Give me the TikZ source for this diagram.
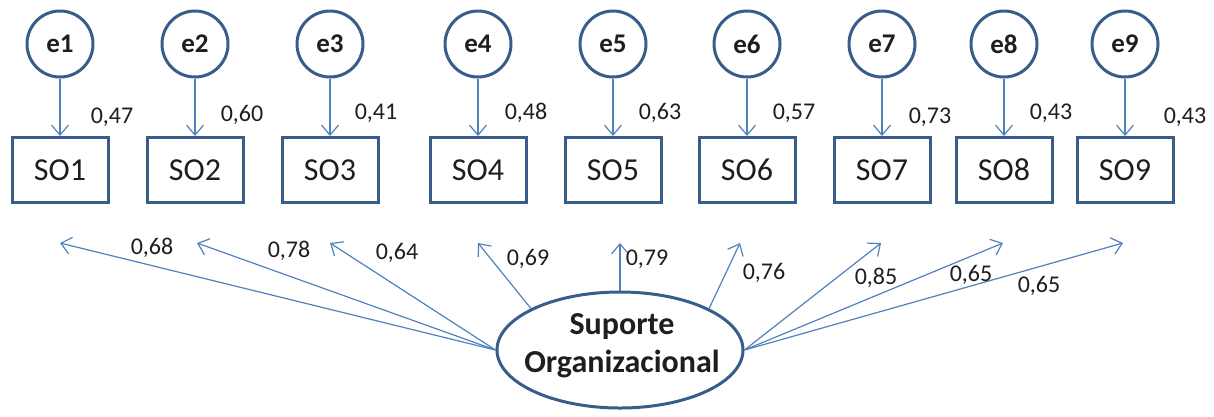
\documentclass[tikz,border=0pt]{standalone}
\usepackage{fontspec}
\setmainfont{Carlito}
\usetikzlibrary{arrows.meta,shapes.geometric}
\definecolor{framecol}{RGB}{56,93,138}
\definecolor{pathcol}{RGB}{79,129,189}
\definecolor{txtcol}{RGB}{30,30,30}
\tikzset{
  errnode/.style={circle, draw=framecol, line width=3pt, minimum size=66pt, inner sep=0pt,
    font=\fontsize{27}{30}\selectfont\bfseries, text=txtcol},
  itembox/.style={rectangle, draw=framecol, line width=3pt, minimum width=96pt, minimum height=65pt,
    inner sep=0pt, font=\fontsize{32}{36}\selectfont, text=txtcol},
  latent/.style={ellipse, draw=framecol, line width=3pt, minimum width=246pt, minimum height=116pt,
    inner sep=0pt},
  latentlabel/.style={align=center, inner sep=0pt, font=\fontsize{32}{38}\selectfont\bfseries, text=txtcol},
  coef/.style={font=\fontsize{24}{26}\selectfont, text=txtcol, inner sep=0pt},
  link/.style={draw=pathcol, line width=1.2pt, -{Straight Barb[length=10pt,width=17pt,line width=1.2pt]}},
}
\begin{document}
\begin{tikzpicture}[x=1pt,y=-1pt]
\useasboundingbox (0,0) rectangle (1214,416);

% error terms and observed items
\foreach \i/\x in {1/60,2/195,3/330,4/478,5/613,6/747,7/882,8/1004,9/1125}{
  \node[errnode] (e\i) at (\x,44) {e\i};
  \node[itembox] (SO\i) at (\x,170) {SO\i};
  \draw[link] (e\i) -- (e\i |- SO\i.north);
}

% error coefficients
\node[coef] (c1) at (112,117) {0,47};
\node[coef] (c2) at (242,115) {0,60};
\node[coef] (c3) at (376,113) {0,41};
\node[coef] (c4) at (526,113) {0,48};
\node[coef] (c5) at (660,113) {0,63};
\node[coef] (c6) at (794,113) {0,57};
\node[coef] (c7) at (930,117) {0,73};
\node[coef] (c8) at (1051,113) {0,43};
\node[coef] (c9) at (1185,117) {0,43};

% latent factor
\node[latent] (F) at (620,350) {};
\node[latentlabel] (Flabel) at (622,346) {Suporte\\Organizacional};

% free ends of the factor loadings
\coordinate (t1) at (60,243);
\coordinate (t2) at (197,243);
\coordinate (t3) at (330,243);
\coordinate (t4) at (478,243);
\coordinate (t5) at (620,243);
\coordinate (t6) at (740,243);
\coordinate (t7) at (881,243);
\coordinate (t8) at (1003,243);
\coordinate (t9) at (1123,243);

\draw[link] (F.west) -- (t1);
\draw[link] (F.west) -- (t2);
\draw[link] (F.west) -- (t3);
\draw[link] (F.155) -- (t4);
\draw[link] (F.north) -- (t5);
\draw[link] (F.25) -- (t6);
\draw[link] (F.east) -- (t7);
\draw[link] (F.east) -- (t8);
\draw[link] (F.east) -- (t9);

% factor loadings
\node[coef] (l1) at (152,248) {0,68};
\node[coef] (l2) at (289,251) {0,78};
\node[coef] (l3) at (397,253) {0,64};
\node[coef] (l4) at (528,259) {0,69};
\node[coef] (l5) at (647,259) {0,79};
\node[coef] (l6) at (764,273) {0,76};
\node[coef] (l7) at (876,278) {0,85};
\node[coef] (l8) at (971,275) {0,65};
\node[coef] (l9) at (1039,286) {0,65};
\end{tikzpicture}
\end{document}
